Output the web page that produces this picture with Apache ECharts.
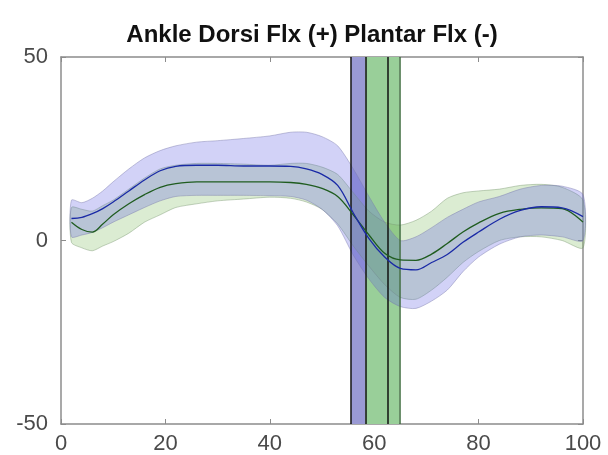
<!DOCTYPE html>
<html><head><meta charset="utf-8">
<script src="https://cdn.jsdelivr.net/npm/echarts@6/dist/echarts.min.js"></script>
<style>html,body{margin:0;padding:0;background:#fff}#c{width:608px;height:455px}</style>
</head><body><div id="c"></div>
<script>
// % gait cycle sample points
const xs         = [2, 4, 6, 8, 10, 13, 16, 19, 22, 26, 30, 35, 40, 44, 47, 50, 53, 56, 59, 62, 65, 68, 71, 74, 77, 80, 84, 88, 92, 96, 100];
// Blue group: mean and band
const blueMean   = [6.0, 6.3, 7.3, 8.7, 10.5, 13.5, 16.5, 19.0, 20.2, 20.5, 20.5, 20.3, 20.3, 20.2, 19.5, 18.0, 15.0, 7.5, 0.5, -4.5, -7.6, -8.0, -6.0, -3.8, -0.5, 2.3, 5.8, 8.2, 9.2, 8.9, 6.5];
const blueUpper  = [11.0, 10.3, 11.5, 13.5, 16.0, 19.5, 22.5, 24.5, 25.8, 26.8, 27.2, 27.8, 28.5, 29.5, 29.5, 28.3, 25.8, 19.5, 12.0, 5.0, 0.0, 1.0, 3.5, 6.3, 8.5, 10.5, 12.0, 14.0, 15.0, 14.8, 12.5];
const blueLower  = [1.0, 1.5, 2.2, 3.5, 5.0, 7.0, 9.0, 10.8, 12.0, 12.3, 12.3, 12.3, 12.2, 12.0, 11.0, 8.5, 4.0, -4.0, -10.5, -15.5, -18.0, -18.5, -16.5, -13.5, -8.5, -4.5, -1.0, 1.0, 1.5, 1.0, 0.0];
// Green group: mean and band
const greenMean  = [5.0, 3.0, 2.3, 4.5, 7.0, 10.0, 12.5, 14.5, 15.5, 16.0, 16.0, 16.0, 16.0, 15.8, 15.3, 14.2, 12.0, 7.0, 1.5, -3.5, -5.3, -5.4, -3.7, -0.8, 2.3, 4.8, 7.4, 8.5, 8.9, 8.7, 5.0];
const greenUpper = [9.0, 8.5, 8.0, 9.5, 11.0, 14.0, 17.0, 19.5, 20.5, 21.0, 21.0, 20.8, 20.5, 21.0, 21.0, 20.0, 18.0, 13.0, 8.0, 5.0, 4.2, 5.5, 8.0, 11.5, 13.0, 13.5, 14.0, 15.0, 15.3, 14.5, 11.0];
const greenLower = [-0.5, -2.0, -2.8, -1.5, -0.3, 2.0, 5.0, 7.0, 9.0, 10.0, 10.8, 11.3, 11.8, 11.5, 10.5, 8.5, 4.5, -1.5, -7.0, -12.0, -15.5, -16.0, -13.5, -10.0, -6.0, -3.0, 0.0, 1.0, 1.0, 0.0, -2.0];
// Toe-off event bands and lines (% gait cycle)
const blueEventBand  = [55.6, 58.3];
const greenEventBand = [58.3, 64.8];
const eventLines     = [55.6, 58.3, 62.6];
const greenEdgeLine  = [64.8];
const xTicks = [0, 20, 40, 60, 80, 100];
const yTicks = [-50, 0, 50];

const pts = ys => xs.map((x, i) => [x, ys[i]]);

function bandSeries(upper, lower, fill, stroke, z) {
  return {
    type: 'custom', coordinateSystem: 'cartesian2d', z: z, silent: true,
    data: [[xs[0], upper[0]]],
    renderItem: function (params, api) {
      const top = xs.map((x, i) => api.coord([x, upper[i]]));
      const bot = xs.map((x, i) => api.coord([x, lower[i]])).reverse();
      return {
        type: 'polygon',
        shape: {points: top.concat(bot), smooth: 0.25},
        style: {fill: fill, stroke: stroke, lineWidth: 0.8}
      };
    }
  };
}

const chart = echarts.init(document.getElementById('c'));
const font = 'Liberation Sans, Arial, sans-serif';
const frameLine = {show: true, onZero: false, lineStyle: {color: '#8c8c8c', width: 1.5}};
const tick = {show: true, inside: true, length: 5, lineStyle: {color: '#8c8c8c', width: 1}};

chart.setOption({
  animation: false,
  backgroundColor: '#fff',
  title: {
    text: 'Ankle Dorsi Flx (+) Plantar Flx (-)',
    left: 307, textAlign: 'center', top: 18,
    textStyle: {fontFamily: font, fontSize: 24, fontWeight: 'bold', color: '#111'}
  },
  grid: {left: 61, right: 25, top: 57, bottom: 31},
  xAxis: [
    {type: 'value', min: xTicks[0], max: xTicks[xTicks.length - 1], interval: 20, position: 'bottom',
     axisLine: frameLine, axisTick: tick, splitLine: {show: false},
     axisLabel: {margin: 9, fontFamily: font, fontSize: 22, color: '#4a4a4a'}},
    {type: 'value', min: 0, max: 100, interval: 20, position: 'top',
     axisLine: frameLine, axisTick: tick, splitLine: {show: false}, axisLabel: {show: false}}
  ],
  yAxis: [
    {type: 'value', min: yTicks[0], max: yTicks[yTicks.length - 1], interval: 50, position: 'left',
     axisLine: frameLine, axisTick: tick, splitLine: {show: false},
     axisLabel: {margin: 13, fontFamily: font, fontSize: 22, color: '#4a4a4a'}},
    {type: 'value', min: -50, max: 50, interval: 50, position: 'right',
     axisLine: frameLine, axisTick: tick, splitLine: {show: false}, axisLabel: {show: false}}
  ],
  series: [
    {type: 'line', data: [], z: 1, silent: true,
     markArea: {silent: true, data: [
       [{xAxis: blueEventBand[0], itemStyle: {color: '#9a9ad4', opacity: 1}}, {xAxis: blueEventBand[1]}],
       [{xAxis: greenEventBand[0], itemStyle: {color: '#99cf99', opacity: 1}}, {xAxis: greenEventBand[1]}]
     ]}},
    bandSeries(greenUpper, greenLower, 'rgba(125,185,95,0.28)', 'rgba(120,150,110,0.55)', 2),
    bandSeries(blueUpper, blueLower, 'rgba(95,95,225,0.28)', 'rgba(120,120,170,0.55)', 3),
    {type: 'line', data: [], z: 4, silent: true,
     markLine: {silent: true, symbol: 'none', label: {show: false},
       data: eventLines.map(v => ({xAxis: v, lineStyle: {color: '#111', width: 1.5, type: 'solid'}}))
         .concat(greenEdgeLine.map(v => ({xAxis: v, lineStyle: {color: '#3d6b3d', width: 1.5, type: 'solid'}})))}},
    {type: 'line', name: 'gMean', data: pts(greenMean), smooth: 0.35, symbol: 'none', z: 5,
     lineStyle: {color: '#1f5c1f', width: 1.3}},
    {type: 'line', name: 'bMean', data: pts(blueMean), smooth: 0.35, symbol: 'none', z: 5,
     lineStyle: {color: '#1a2aa6', width: 1.3}}
  ]
});
</script>
</body></html>
